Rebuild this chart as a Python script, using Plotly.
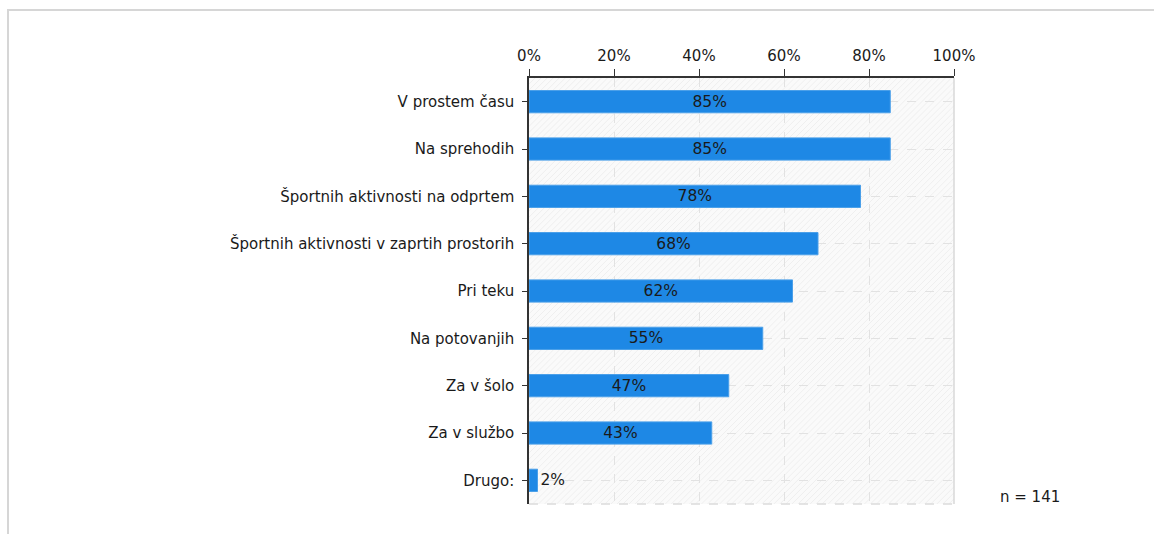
import plotly.graph_objects as go

# Survey: where respondents use the product (share of respondents, %)
categories = [
    "V prostem času",
    "Na sprehodih",
    "Športnih aktivnosti na odprtem",
    "Športnih aktivnosti v zaprtih prostorih",
    "Pri teku",
    "Na potovanjih",
    "Za v šolo",
    "Za v službo",
    "Drugo:",
]
shares = [85, 85, 78, 68, 62, 55, 47, 43, 2]
x_ticks = [0, 20, 40, 60, 80, 100]
sample_size = 141

FONT = "DejaVu Sans"
FS = 15
INK = "#1a1a1a"
BAR = "#1e88e5"

# plot area in pixels (used to place the panel frame in paper units)
L, R, T, B, W, H = 529, 200, 78, 30, 1154, 534
PW, PH = W - L - R, H - T - B


def px_x(px):
    return (px - L) / PW


def px_y(py):
    return (H - B - py) / PH


fig = go.Figure()
fig.add_trace(go.Bar(
    y=categories,
    x=shares,
    orientation="h",
    width=0.47,
    marker=dict(color=BAR, line=dict(color="#4a9fe9", width=1)),
    text=[f"{v}%" for v in shares],
    textposition="auto",
    insidetextanchor="middle",
    constraintext="none",
    insidetextfont=dict(family=FONT, size=15.5, color=INK),
    outsidetextfont=dict(family=FONT, size=15.5, color=INK),
    cliponaxis=False,
    hoverinfo="skip",
))

# faint diagonal hatching across the plotting area
step = 0.0142
segs = []
c = -1.0
while c < 1.0:
    x0, y0 = c, 0.0
    if x0 < 0:
        y0, x0 = -x0, 0.0
    x1, y1 = c + 1.0, 1.0
    if x1 > 1:
        y1, x1 = 1.0 - (x1 - 1.0), 1.0
    segs.append(f"M{x0:.4f},{y0:.4f}L{x1:.4f},{y1:.4f}")
    c += step
fig.add_shape(type="path", path="".join(segs), xref="x domain", yref="y domain",
              line=dict(color="#efefef", width=1), layer="below")

# light frame on the right and bottom of the plotting area
fig.add_shape(type="line", xref="x domain", yref="y domain", x0=1, x1=1, y0=0, y1=1,
              line=dict(color="#d9d9d9", width=1.5), layer="below")
fig.add_shape(type="line", xref="x domain", yref="y domain", x0=0, x1=1, y0=0, y1=0,
              line=dict(color="#dcdcdc", width=1.5, dash="dash"), layer="below")

# outer panel border (left and top edges)
fig.add_shape(type="line", xref="paper", yref="paper", x0=px_x(8), x1=px_x(8),
              y0=px_y(H + 5), y1=px_y(10), line=dict(color="#d6d6d6", width=2), layer="above")
fig.add_shape(type="line", xref="paper", yref="paper", x0=px_x(7), x1=px_x(W + 5),
              y0=px_y(10), y1=px_y(10), line=dict(color="#d6d6d6", width=2), layer="above")

fig.add_annotation(text=f"n = {sample_size}", xref="paper", yref="paper",
                   x=px_x(998), y=px_y(497), xanchor="left", yanchor="middle", showarrow=False,
                   font=dict(family=FONT, size=FS, color=INK))

fig.update_layout(
    width=W, height=H,
    margin=dict(l=L, r=R, t=T, b=B),
    paper_bgcolor="white",
    plot_bgcolor="#fafafa",
    showlegend=False,
    font=dict(family=FONT, size=FS, color=INK),
    xaxis=dict(
        side="top", range=[0, 100], tickvals=x_ticks,
        ticktext=[f"{t}%" for t in x_ticks],
        showline=True, linecolor="#333333", linewidth=1.5,
        ticks="outside", ticklen=7, tickcolor="#333333",
        showgrid=True, gridcolor="#e2e2e2", griddash="dash", gridwidth=1,
        zeroline=False, fixedrange=True, ticklabelstandoff=2,
        tickfont=dict(family=FONT, size=FS, color=INK),
    ),
    yaxis=dict(
        range=[8.5, -0.5],
        showline=True, linecolor="#333333", linewidth=1.5,
        ticks="outside", ticklen=5, tickcolor="#333333",
        showgrid=True, gridcolor="#e2e2e2", griddash="dash", gridwidth=1,
        zeroline=False, fixedrange=True, ticklabelstandoff=5,
        tickfont=dict(family=FONT, size=FS, color=INK),
    ),
)

fig.write_html("out.html")
